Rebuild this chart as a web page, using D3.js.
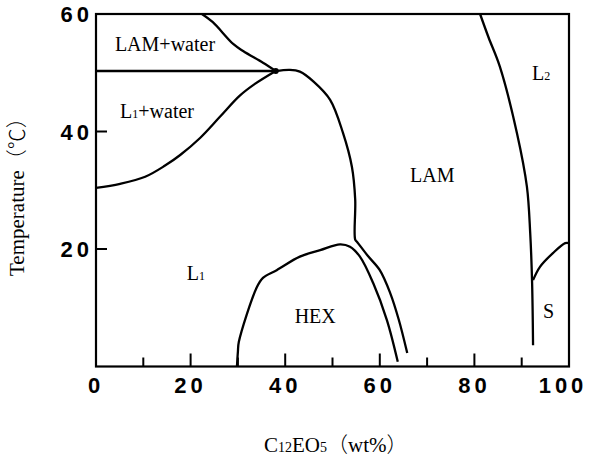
<!DOCTYPE html>
<html>
<head>
<script src="https://d3js.org/d3.v7.min.js"></script>
<style>
  body { margin: 0; background: #fff; }
  .tick-label { font-family: "Liberation Sans", Arial, sans-serif; font-weight: bold; font-size: 22px; letter-spacing: 4px; }
  .region { font-family: "Liberation Serif", "Times New Roman", serif; font-size: 20px; }
  .title { font-family: "Liberation Serif", "Times New Roman", serif; font-size: 21px; }
  .cjk { font-family: "Noto Sans CJK JP", "Noto Sans CJK SC", sans-serif; font-weight: 300; }
</style>
</head>
<body>
<svg id="chart" width="589" height="461"></svg>
<script>
// phase boundaries, [wt%, temperature]
var lamWaterUpper = [[22.4,60],[24.7,58.6],[29,54.9],[31.1,53.7],[35.3,51.7],[38,50.3]];
var threePhase = [[0,50.3],[38,50.3]];
var l1WaterLower = [[0,30.4],[5.1,31.1],[10.4,32.3],[14.6,34.2],[17.8,36],[22,38.9],[26.2,42.5],[30.4,46.1],[33.6,48.1],[38,50.3]];
var lamBoundary = [[38,50.3],[41,50.5],[43.1,50.2],[46,48.5],[49.5,45.4],[52.2,39.8],[54.1,34],[54.8,28.4],[54.8,21.6],[55.2,21.2],[57.5,18.8],[60,16.4],[62.2,12.5],[64,8],[65.8,2.3]];
var hexBoundary = [[29.8,0],[30,2.5],[30.2,4.2],[34,13.5],[35.3,15.1],[38.2,16.4],[43.1,18.7],[47.4,19.8],[51.6,20.8],[53.7,20.4],[55.8,18.7],[58.6,14.2],[61.5,7.9],[63.8,0.8]];
var l2Boundary = [[81.2,60],[83,56],[85.4,51],[89,39.7],[91.1,30.6],[91.8,22.7],[92.2,14.2],[92.4,3.6]];
var sBoundary = [[92.4,14.7],[93.9,17],[96.6,19.3],[99.2,21],[100,21]];
var triplePoint = [38,50.3];

var xTicksMajor = [0,20,40,60,80,100];
var xTicksMinor = [10,30,50,70,90];
var yTicks = [20,40,60];

// region labels: text, subscript, wt%, temperature
var regionLabels = [
  {t:"LAM+water", x:4.0, y:53.7},
  {t:"L", sub:"1", rest:"+water", x:5.1, y:42.3},
  {t:"LAM", x:66.4, y:31.4},
  {t:"L", sub:"2", x:92.2, y:48.8},
  {t:"L", sub:"1", x:19.2, y:14.7},
  {t:"HEX", x:42, y:7.4},
  {t:"S", x:94.5, y:8.2}
];

var svg = d3.select("#chart");
var x = d3.scaleLinear().domain([0,100]).range([96,569]);
var y = d3.scaleLinear().domain([0,60]).range([366.5,14]);

// frame
svg.append("rect")
  .attr("x", x(0)).attr("y", y(60))
  .attr("width", x(100)-x(0)).attr("height", y(0)-y(60))
  .attr("fill","none").attr("stroke","#000").attr("stroke-width",2.2);

// x ticks (inward)
svg.selectAll(".xmaj").data(xTicksMajor.filter(function(d){return d>0 && d<100;}))
  .enter().append("line")
  .attr("x1", function(d){return x(d);}).attr("x2", function(d){return x(d);})
  .attr("y1", y(0)).attr("y2", y(0)-13)
  .attr("stroke","#000").attr("stroke-width",2);
svg.selectAll(".xmin").data(xTicksMinor)
  .enter().append("line")
  .attr("x1", function(d){return x(d);}).attr("x2", function(d){return x(d);})
  .attr("y1", y(0)).attr("y2", y(0)-9)
  .attr("stroke","#000").attr("stroke-width",2);

svg.selectAll(".xlab").data(xTicksMajor)
  .enter().append("text")
  .attr("class","tick-label")
  .attr("x", function(d){return Math.min(x(d), 563);})
  .attr("y", 393)
  .attr("text-anchor","middle")
  .text(function(d){return d;});

// y ticks
svg.selectAll(".ytick").data(yTicks.filter(function(d){return d<60;}))
  .enter().append("line")
  .attr("x1", x(0)).attr("x2", x(0)+11)
  .attr("y1", function(d){return y(d);}).attr("y2", function(d){return y(d);})
  .attr("stroke","#000").attr("stroke-width",2);
svg.selectAll(".ylab").data(yTicks)
  .enter().append("text")
  .attr("class","tick-label")
  .attr("x", 93)
  .attr("y", function(d){return y(d)+8;})
  .attr("text-anchor","end")
  .text(function(d){return d;});

// boundaries
var line = d3.line()
  .x(function(d){return x(d[0]);})
  .y(function(d){return y(d[1]);})
  .curve(d3.curveCatmullRom.alpha(0.5));

[lamWaterUpper, l1WaterLower, lamBoundary, hexBoundary, l2Boundary, sBoundary].forEach(function(c){
  svg.append("path").attr("d", line(c))
    .attr("fill","none").attr("stroke","#000").attr("stroke-width",2.3);
});
svg.append("path").attr("d", d3.line().x(function(d){return x(d[0]);}).y(function(d){return y(d[1]);})(threePhase))
  .attr("fill","none").attr("stroke","#000").attr("stroke-width",2.3);
svg.append("circle").attr("cx", x(triplePoint[0])).attr("cy", y(triplePoint[1])).attr("r",3);

// region labels
regionLabels.forEach(function(l){
  var t = svg.append("text").attr("class","region")
    .attr("x", x(l.x)).attr("y", y(l.y));
  t.append("tspan").text(l.t);
  if (l.sub) t.append("tspan").attr("font-size","12px").text(l.sub);
  if (l.rest) t.append("tspan").text(l.rest);
});

// axis titles
var yt = svg.append("text").attr("class","title")
  .attr("transform","translate(24,276) rotate(-90)")
  .attr("text-anchor","start");
yt.append("tspan").text("Temperature");
yt.append("tspan").attr("class","cjk").text("（℃）");

var xt = svg.append("text").attr("class","title")
  .attr("x", 264).attr("y", 452)
  .attr("text-anchor","start");
xt.append("tspan").text("C");
xt.append("tspan").attr("font-size","14px").text("12");
xt.append("tspan").text("EO");
xt.append("tspan").attr("font-size","14px").text("5");
xt.append("tspan").attr("class","cjk").text("（");
xt.append("tspan").text("wt%");
xt.append("tspan").attr("class","cjk").text("）");
</script>
</body>
</html>
